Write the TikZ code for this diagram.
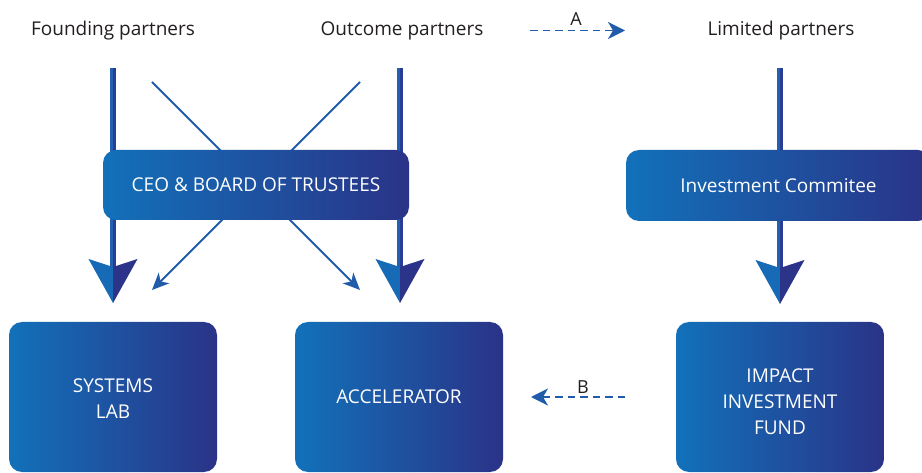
\documentclass[tikz,border=0pt]{standalone}
\usepackage{fontspec}
\setmainfont{Open Sans}
\usetikzlibrary{calc,arrows.meta}
\definecolor{gL}{RGB}{18,113,186}
\definecolor{gR}{RGB}{42,51,135}
\definecolor{txtC}{RGB}{35,31,32}
\definecolor{lineC}{RGB}{33,92,170}
\definecolor{shL}{RGB}{36,96,176}
\definecolor{shR}{RGB}{40,62,150}
\definecolor{hdL}{RGB}{22,106,182}
\definecolor{hdR}{RGB}{44,52,138}
\tikzset{
  lbl/.style={font=\fontsize{19}{22}\selectfont, text=txtC, anchor=base, inner sep=0pt},
  gbox/.style={rounded corners=13pt, left color=gL, right color=gR, draw=none,
     text=white, font=\fontsize{19}{26}\selectfont, align=center, inner sep=0pt},
  boxtext/.style={text=white, font=\fontsize{19}{26}\selectfont, align=center, inner sep=0pt},
  thinarrow/.style={draw=lineC, line width=2pt, -{Stealth[length=17pt,width=15pt,inset=5pt]}},
  dasharrow/.style={draw=lineC, line width=1.9pt, dash pattern=on 7.5pt off 5pt,
     -{Stealth[length=17pt,width=17pt,inset=5pt]}},
  smalllbl/.style={font=\fontsize{18}{20}\selectfont, text=txtC, inner sep=0pt}
}
\newcommand\bigarrow[2]{%
  \fill[shL] ($(#1)+(-2.6,0)$) rectangle ($(#2)+(0,-36)$);
  \fill[shR] (#1) rectangle ($(#2)+(2.6,-36)$);
  \fill[hdL] (#2) .. controls ($(#2)+(-11.5,-22)$) .. ($(#2)+(-24.5,-44)$)
     .. controls ($(#2)+(-12,-39.5)$) .. ($(#2)+(0,-36)$) -- cycle;
  \fill[hdR] (#2) .. controls ($(#2)+(11.5,-22)$) .. ($(#2)+(24.5,-44)$)
     .. controls ($(#2)+(12,-39.5)$) .. ($(#2)+(0,-36)$) -- cycle;
}
\begin{document}
\begin{tikzpicture}[x=1pt,y=-1pt]
\clip (0,0) rectangle (922,473);
\fill[white] (0,0) rectangle (922,473);
% top labels
\node[lbl] (FP) at (113,36) {Founding partners};
\node[lbl] (OP) at (402,36) {Outcome partners};
\node[lbl] (LP) at (781,36) {Limited partners};
% boxes (bottom)
\node[gbox, minimum width=208pt, minimum height=150pt] (SL) at (113,397) {};
\node[boxtext] (SLt) at ($(SL)+(0,1.5)$) {SYSTEMS\\LAB};
\node[gbox, minimum width=208pt, minimum height=150pt] (AC) at (399,397) {ACCELERATOR};
\node[gbox, minimum width=208pt, minimum height=150pt] (IF) at (780,397) {};
\node[boxtext] (IFt) at ($(IF)+(0,4.5)$) {IMPACT\\INVESTMENT\\FUND};
% coordinates for connectors
\coordinate (fpS) at (113,68);
\coordinate (fpT) at (113,303);
\coordinate (opS) at (400,68);
\coordinate (opT) at (400,303);
\coordinate (lpS) at (780,68);
\coordinate (lpT) at (780,304);
\coordinate (d1s) at (152,82);
\coordinate (d1e) at (360,290);
\coordinate (d2s) at (360,82);
\coordinate (d2e) at (152,290);
% thin diagonal connectors
\draw[thinarrow] (d1s) -- (d1e);
\draw[thinarrow] (d2s) -- (d2e);
% thick connectors
\bigarrow{fpS}{fpT}
\bigarrow{opS}{opT}
\bigarrow{lpS}{lpT}
% middle boxes
\node[gbox, minimum width=306pt, minimum height=70pt] (CEO) at (256,185) {CEO \& BOARD OF TRUSTEES};
\node[gbox, minimum width=305pt, minimum height=71pt] (IC) at (778.5,185.5) {Investment Commitee};
% dashed connectors
\coordinate (a1) at (530,30.5);
\coordinate (a2) at (625,30.5);
\draw[dasharrow] (a1) -- (a2);
\node[smalllbl] (A) at (576,19.5) {A};
\coordinate (b1) at (625,397);
\coordinate (b2) at (531,397);
\draw[dasharrow] (b1) -- (b2);
\node[smalllbl] (B) at (583,387) {B};
\end{tikzpicture}
\end{document}
